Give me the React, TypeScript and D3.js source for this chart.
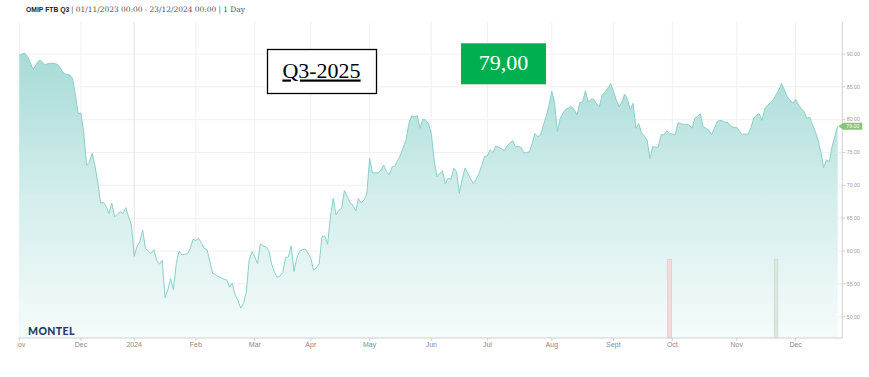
import React from "react";
import * as d3 from "d3";

// ---- DATA ----
const titleName = "OMIP FTB Q3";
const titleRange = "| 01/11/2023 00:00 - 23/12/2024 00:00 | 1 Day";
const contractLabel = "Q3-2025";
const priceLabel = "79,00";
const lastPrice = 79.0;

const firstDay = "2023-11-01";
const lastDay = "2024-12-23";
const holidays = ["2023-12-25", "2023-12-26", "2024-01-01", "2024-03-29", "2024-04-01", "2024-05-01"];

// daily closes, one per trading day from 01/11/2023 to 23/12/2024
const closes: number[] = [
  89.85, 90.0, 90.1, 89.6, 88.6, 87.6, 88.4, 89.0, 88.9, 88.3,
  88.5, 88.6, 88.6, 88.5, 88.3, 87.6, 87.0, 86.9, 86.8, 86.3,
  83.8, 80.9, 81.0, 78.0, 73.1, 73.5, 74.9, 73.0, 70.5, 67.3,
  67.4, 66.8, 65.7, 67.3, 65.2, 65.6, 66.0, 65.7, 66.6, 65.2,
  64.0, 59.2, 60.7, 61.4, 63.2, 60.4, 60.0, 59.6, 60.2, 58.6,
  58.0, 58.6, 52.9, 54.1, 55.8, 54.1, 58.1, 60.0, 59.4, 59.5,
  59.6, 60.4, 61.8, 61.6, 61.9, 61.2, 60.4, 60.2, 58.4, 56.6,
  56.4, 56.1, 55.9, 55.7, 55.6, 54.5, 55.1, 53.3, 52.5, 51.3,
  52.0, 53.8, 58.6, 59.9, 59.1, 58.1, 61.1, 60.8, 60.6, 60.1,
  58.1, 56.8, 56.0, 56.2, 56.7, 59.0, 59.1, 60.8, 56.9, 58.9,
  60.0, 60.2, 60.3, 59.7, 58.9, 57.1, 57.4, 58.1, 62.2, 62.3,
  61.0, 65.2, 68.0, 65.5, 66.2, 66.5, 69.2, 68.3, 67.4, 67.0,
  66.1, 68.0, 67.3, 67.8, 68.7, 74.1, 71.9, 71.9, 71.9, 72.3,
  73.1, 72.1, 71.6, 72.8, 72.9, 73.8, 74.6, 75.8, 76.9, 79.4,
  80.6, 80.4, 80.6, 78.7, 80.1, 79.9, 79.4, 77.9, 73.9, 71.3,
  71.8, 72.2, 70.2, 71.1, 70.9, 72.6, 72.1, 68.8, 70.9, 72.6,
  71.9, 71.0, 70.3, 70.9, 71.8, 73.0, 74.4, 74.5, 75.4, 75.0,
  76.0, 75.8, 75.6, 75.3, 76.0, 76.4, 76.8, 75.9, 75.9, 75.8,
  74.9, 75.0, 75.1, 76.4, 77.9, 77.4, 77.7, 79.2, 80.5, 82.2,
  84.3, 82.5, 78.2, 80.2, 81.0, 81.6, 81.8, 82.0, 81.5, 80.7,
  82.6, 82.7, 84.4, 82.7, 83.1, 83.1, 82.4, 82.0, 83.8, 84.2,
  84.8, 85.5, 84.3, 83.0, 82.0, 82.7, 83.9, 83.1, 81.5, 82.5,
  78.7, 79.4, 78.0, 77.5, 76.9, 74.1, 75.9, 75.8, 75.8, 77.7,
  77.7, 78.3, 77.9, 77.8, 77.7, 79.5, 79.4, 79.3, 79.3, 79.2,
  78.7, 80.2, 80.5, 80.9, 78.9, 78.7, 78.4, 77.7, 78.7, 79.7,
  79.9, 79.8, 79.6, 79.5, 79.0, 78.8, 78.8, 78.2, 77.8, 77.8,
  77.8, 78.7, 80.2, 80.7, 80.9, 79.9, 81.7, 82.2, 82.6, 83.0,
  83.8, 84.5, 85.5, 84.5, 83.5, 83.0, 82.5, 83.1, 82.2, 81.7,
  81.2, 80.2, 80.4, 79.2, 78.2, 76.9, 75.0, 72.7, 73.9, 73.6,
  75.9, 77.5, 79.0,
];

const yTicks = [50, 55, 60, 65, 70, 75, 80, 85, 90];
const monthLabels = ["Nov", "Dec", "2024", "Feb", "Mar", "Apr", "May", "Jun", "Jul", "Aug", "Sept", "Oct", "Nov", "Dec"];

const volumeDates = ["2024-09-30", "2024-11-21"];
const volumeValues = [1, 1];
const volumeDirection = ["down", "up"];

// ---- LAYOUT ----
const W = 869;
const H = 377;
const plotTop = 22;
const plotBottom = 338;
const xLeft = 19.3;
const xRight = 837.7;
const axisX = 842.3;

const fmt = d3.utcFormat("%Y-%m-%d");
const parse = d3.utcParse("%Y-%m-%d");

function tradingDays(): string[] {
  const start = parse(firstDay) as Date;
  const end = d3.utcDay.offset(parse(lastDay) as Date, 1);
  return d3
    .utcDays(start, end)
    .filter((d) => d.getUTCDay() !== 0 && d.getUTCDay() !== 6)
    .map((d) => fmt(d))
    .filter((s) => !holidays.includes(s));
}

export default function App() {
  const days = tradingDays();
  const n = Math.min(days.length, closes.length);
  const series: [string, number][] = days.slice(0, n).map((d, i) => [d, closes[i]]);
  const usedDays = series.map((d) => d[0]);

  const x = d3.scalePoint<string>().domain(usedDays).range([xLeft, xRight]);
  const y = d3.scaleLinear().domain([50, 90]).range([316.7, 54]);
  const vScale = d3.scaleLinear().domain([0, d3.max(volumeValues) as number]).range([plotBottom, 259.3]);

  const monthStarts: string[] = [];
  usedDays.forEach((d, i) => {
    if (i === 0 || d.slice(0, 7) !== usedDays[i - 1].slice(0, 7)) monthStarts.push(d);
  });

  const area = d3
    .area<[string, number]>()
    .x((d) => x(d[0]) as number)
    .y0(plotBottom)
    .y1((d) => y(d[1]));
  const line = d3
    .line<[string, number]>()
    .x((d) => x(d[0]) as number)
    .y((d) => y(d[1]));

  const tagY = y(lastPrice);
  const tagPath = `M${axisX - 4},${tagY} L${axisX + 1},${tagY - 3.4} L${axisX + 20},${tagY - 3.4} L${axisX + 20},${tagY + 3.4} L${axisX + 1},${tagY + 3.4} Z`;

  return (
    <svg
      width={W}
      height={H}
      style={{ position: "absolute", left: 0, top: 0, background: "#fff" }}
      fontFamily="'Liberation Sans', Arial, sans-serif"
    >
      <defs>
        <linearGradient id="areaGrad" gradientUnits="userSpaceOnUse" x1="0" y1="54" x2="0" y2={plotBottom}>
          <stop offset="0" stopColor="#a7dbd7" />
          <stop offset="0.5" stopColor="#d3eeec" />
          <stop offset="1" stopColor="#f5fbfb" />
        </linearGradient>
        <clipPath id="labelClip">
          <rect x={17.5} y={0} width={W} height={H} />
        </clipPath>
      </defs>

      {/* title */}
      <text x={26} y={11.5} fontSize={6.8} fontWeight="bold" fill="#222">
        {titleName}
      </text>
      <text x={71} y={11.5} fontSize={7.5} fontFamily="'DejaVu Serif', serif" fill="#555" textLength={174} lengthAdjust="spacing">
        {titleRange}
      </text>

      {/* horizontal gridlines */}
      {yTicks.map((t) => (
        <line key={"hg" + t} x1={xLeft} x2={axisX} y1={y(t)} y2={y(t)} stroke="#f0f0f0" strokeWidth={1} />
      ))}
      {/* vertical gridlines */}
      {monthStarts.map((d, i) => (
        <line
          key={"vg" + d}
          x1={x(d) as number}
          x2={x(d) as number}
          y1={plotTop}
          y2={plotBottom}
          stroke={monthLabels[i] === "2024" ? "#e2e2e2" : "#f0f0f0"}
          strokeWidth={1}
        />
      ))}

      {/* area + line */}
      <path d={area(series) as string} fill="url(#areaGrad)" />
      <path d={line(series) as string} fill="none" stroke="#8ccfca" strokeWidth={1} />

      {/* volume bars */}
      {volumeDates.map((d, i) => {
        const cx = x(d) as number;
        const top = vScale(volumeValues[i]);
        const down = volumeDirection[i] === "down";
        return (
          <rect
            key={"v" + d}
            x={cx - 1.8}
            y={top}
            width={3.6}
            height={plotBottom - top}
            fill={down ? "#f4dada" : "#dbe8df"}
            stroke={down ? "#e6c2c2" : "#c9dacf"}
            strokeWidth={0.7}
          />
        );
      })}

      {/* bottom axis */}
      <line x1={18} x2={axisX} y1={plotBottom} y2={plotBottom} stroke="#cfcfcf" strokeWidth={1} />
      <g clipPath="url(#labelClip)">
        {monthStarts.map((d, i) => (
          <g key={"xt" + d}>
            <line x1={x(d) as number} x2={x(d) as number} y1={plotBottom} y2={plotBottom + 3} stroke="#cfcfcf" />
            <text x={x(d) as number} y={347} fontSize={7} fill="#8a8a8a" textAnchor="middle">
              {monthLabels[i]}
            </text>
          </g>
        ))}
      </g>

      {/* right axis */}
      <line x1={axisX} x2={axisX} y1={plotTop} y2={plotBottom} stroke="#d0d0d0" strokeWidth={1} />
      {yTicks.map((t) => (
        <g key={"yt" + t}>
          <line x1={axisX} x2={axisX + 3} y1={y(t)} y2={y(t)} stroke="#d0d0d0" />
          <text x={axisX + 4.5} y={y(t) + 1.8} fontSize={5.2} fill="#9a9a9a">
            {t.toFixed(2)}
          </text>
        </g>
      ))}

      {/* last price tag */}
      <path d={tagPath} fill="#86c57a" />
      <text x={axisX + 10.5} y={tagY + 1.8} fontSize={5.2} fill="#fff" textAnchor="middle">
        {lastPrice.toFixed(2)}
      </text>

      {/* logo */}
      <text x={28} y={335} fontSize={10.5} fontWeight={900} fontFamily="Lato, sans-serif" fill="#1e3a66" letterSpacing={0.4}>
        MONTEL
      </text>

      {/* annotation boxes */}
      <rect x={267.5} y={49.5} width={109} height={44} fill="#fff" stroke="#000" strokeWidth={1.3} />
      <text
        x={321.5}
        y={77.5}
        fontSize={22}
        fontFamily="'Liberation Serif', 'DejaVu Serif', serif"
        fill="#000"
        textAnchor="middle"
        textDecoration="underline"
      >
        {contractLabel}
      </text>
      <rect x={461} y={43.3} width={85} height={41} fill="#00b050" />
      <text
        x={503.5}
        y={70}
        fontSize={22}
        fontFamily="'Liberation Serif', 'DejaVu Serif', serif"
        fill="#fff"
        textAnchor="middle"
      >
        {priceLabel}
      </text>
    </svg>
  );
}
